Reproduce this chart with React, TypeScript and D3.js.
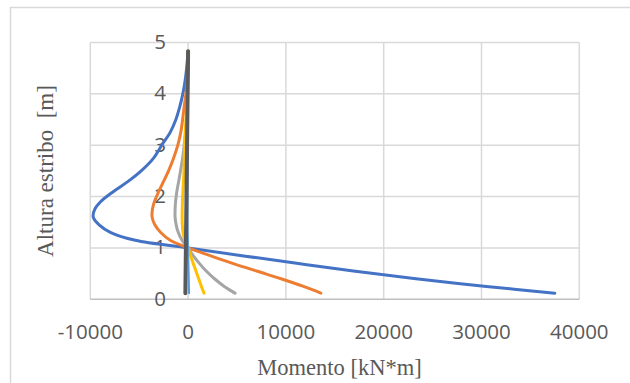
import React from "react";
import * as d3 from "d3";

const heights = [0.12, 0.25, 0.4, 0.55, 0.7, 0.85, 1.0, 1.15, 1.3, 1.45, 1.6, 1.75, 1.9, 2.1, 2.3, 2.5, 2.75, 3.0, 3.25, 3.5, 3.75, 4.0, 4.25, 4.5, 4.83];
const serieAzul = [37500, 30500, 23300, 16900, 11100, 5500, 0, -5400, -7900, -9100, -9700, -9550, -8950, -7630, -6100, -4800, -3530, -2700, -1830, -1250, -850, -540, -310, -150, 0];
const serieNaranja = [13570, 11800, 9500, 7000, 4550, 2250, 0, -1830, -2800, -3400, -3680, -3650, -3450, -3000, -2500, -2000, -1480, -1050, -750, -560, -400, -220, -110, -40, 0];
const serieGris = [4800, 3700, 2700, 1850, 1150, 520, 0, -620, -1000, -1220, -1330, -1330, -1280, -1150, -960, -780, -560, -400, -270, -170, -100, -60, -30, -10, 0];
const serieAmarilla = [1630, 1360, 1080, 800, 520, 250, 0, -330, -520, -590, -610, -600, -580, -530, -470, -420, -390, -350, -290, -220, -150, -90, -50, -20, 0];
const serieCeleste = [100, 85, 70, 55, 35, 15, 0, -20, -40, -50, -60, -60, -60, -55, -50, -45, -40, -35, -30, -25, -20, -15, -10, -5, 0];
const serieOscura = [-280, -272, -263, -254, -245, -236, -227, -218, -209, -200, -191, -182, -173, -161, -149, -137, -122, -107, -92, -77, -62, -48, -33, -18, 0];

const xTicks = [-10000, 0, 10000, 20000, 30000, 40000];
const yTicks = [0, 1, 2, 3, 4, 5];

const series = [
  { values: serieAzul, color: "#4472c4", width: 3 },
  { values: serieNaranja, color: "#ed7d31", width: 3 },
  { values: serieGris, color: "#a5a5a5", width: 3 },
  { values: serieAmarilla, color: "#ffc000", width: 3 },
  { values: serieCeleste, color: "#5b9bd5", width: 2 },
  { values: serieOscura, color: "#5a5a5a", width: 4 },
];

export default function App() {
  const W = 630, H = 383;
  const x = d3.scaleLinear().domain([-10000, 40000]).range([90.3, 579.3]);
  const y = d3.scaleLinear().domain([0, 5]).range([299.3, 42.5]);
  const line = d3
    .line<[number, number]>()
    .x((d) => x(d[0]))
    .y((d) => y(d[1]))
    .curve(d3.curveCatmullRom.alpha(0.5));
  const tickFont = "'Open Sans', 'Liberation Sans', sans-serif";
  const titleFont = "'Liberation Serif', 'Times New Roman', serif";
  return (
    <svg width={W} height={H} style={{ position: "absolute", left: 0, top: 0, background: "#fff" }}>
      <rect x={0} y={0} width={W} height={H} fill="#fff" />
      <rect x={10.5} y={7.5} width={700} height={500} fill="none" stroke="#d9d9d9" strokeWidth={1.5} />
      {xTicks.map((t) => (
        <line key={"gx" + t} x1={x(t)} x2={x(t)} y1={y(5)} y2={y(0)} stroke="#d9d9d9" strokeWidth={1.5} />
      ))}
      {yTicks.map((t) => (
        <line key={"gy" + t} x1={x(-10000)} x2={x(40000)} y1={y(t)} y2={y(t)} stroke={t === 0 ? "#bfbfbf" : "#d9d9d9"} strokeWidth={1.5} />
      ))}
      {yTicks.map((t) => (
        <text key={"ty" + t} x={166} y={y(t) + 1} textAnchor="end" dominantBaseline="middle" fontFamily={tickFont} fontSize={20.5} fill="#595959">
          {t}
        </text>
      ))}
      {xTicks.map((t) => (
        <text key={"tx" + t} x={x(t)} y={339} textAnchor="middle" fontFamily={tickFont} fontSize={20.5} fill="#595959">
          {t}
        </text>
      ))}
      {series.map((s, i) => (
        <path
          key={"s" + i}
          d={line(heights.map((h, j) => [s.values[j], h] as [number, number])) || ""}
          fill="none"
          stroke={s.color}
          strokeWidth={s.width}
          strokeLinecap="round"
          strokeLinejoin="round"
        />
      ))}
      <text x={339.5} y={375} textAnchor="middle" fontFamily={titleFont} fontSize={22.5} fill="#595959">
        Momento [kN*m]
      </text>
      <text
        transform={`translate(53,171) rotate(-90)`}
        textAnchor="middle"
        fontFamily={titleFont}
        fontSize={23}
        fill="#595959"
        style={{ whiteSpace: "pre" }}
      >
        {"Altura estribo  [m]"}
      </text>
    </svg>
  );
}
